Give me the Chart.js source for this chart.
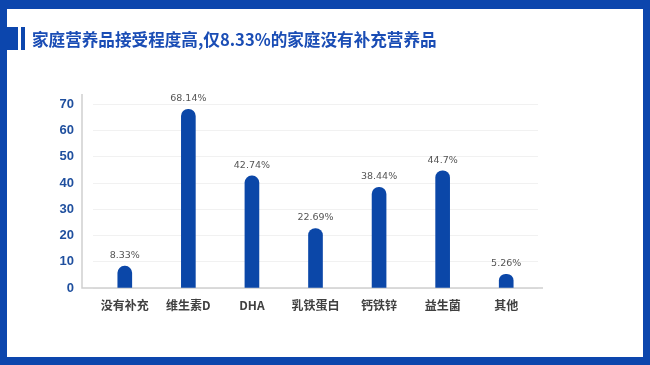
<!DOCTYPE html>
<html><head><meta charset="utf-8">
<script src="https://cdn.jsdelivr.net/npm/chart.js@4.4.1/dist/chart.umd.min.js"></script>
<style>
html,body{margin:0;padding:0;background:#fff;}
#wrap{position:relative;width:650px;height:365px;overflow:hidden;background:#fff;}
#frame{position:absolute;left:0;top:0;width:650px;height:365px;box-sizing:border-box;border-style:solid;border-color:#0c46ad;border-width:9px 7px 8px 7px;pointer-events:none;}
#mark1{position:absolute;left:7px;top:27px;width:11px;height:23px;background:#0c46ad;}
#mark2{position:absolute;left:21px;top:27px;width:4px;height:23px;background:#0c46ad;}
#title{position:absolute;left:32px;top:26px;font-family:"Noto Sans CJK SC",sans-serif;font-weight:700;font-size:16.6px;color:#1a4db5;white-space:nowrap;line-height:26px;}
canvas{position:absolute;left:0;top:0;}
</style></head>
<body><div id="wrap">
<canvas id="c" width="650" height="365"></canvas>
<div id="frame"></div><div id="mark1"></div><div id="mark2"></div>
<div id="title">家庭营养品接受程度高,仅8.33%的家庭没有补充营养品</div>
</div>
<script>
const categories = ["没有补充","维生素D","DHA","乳铁蛋白","钙铁锌","益生菌","其他"];
const values = [8.33, 68.14, 42.74, 22.69, 38.44, 44.7, 5.26];
const valueLabels = ["8.33%","68.14%","42.74%","22.69%","38.44%","44.7%","5.26%"];
const yTicks = [0,10,20,30,40,50,60,70];

const axisLines = {
  id:'axisLines',
  beforeDatasetsDraw(chart){
    const {ctx, chartArea:a} = chart;
    ctx.save();
    ctx.strokeStyle = '#cfcfcf';
    ctx.lineWidth = 1.5;
    ctx.beginPath();
    ctx.moveTo(a.left-11, a.top);
    ctx.lineTo(a.left-11, a.bottom);
    ctx.lineTo(a.right+5, a.bottom);
    ctx.stroke();
    ctx.restore();
  }
};
const valueLabelPlugin = {
  id:'valueLabels',
  afterDatasetsDraw(chart){
    const {ctx} = chart;
    const meta = chart.getDatasetMeta(0);
    ctx.save();
    ctx.font = '9.5px "DejaVu Sans", sans-serif';
    ctx.fillStyle = '#555';
    ctx.textAlign = 'center';
    ctx.textBaseline = 'bottom';
    meta.data.forEach((bar,i)=>{
      ctx.fillText(valueLabels[i], bar.x, bar.y - 6);
    });
    ctx.restore();
  }
};

new Chart(document.getElementById('c'), {
  type:'bar',
  data:{labels:categories, datasets:[{data:values, backgroundColor:'#0b47a8', barThickness:14,
    borderRadius:{topLeft:7, topRight:7, bottomLeft:0, bottomRight:0}, borderSkipped:'bottom'}]},
  options:{
    responsive:false, animation:false, devicePixelRatio:1,
    layout:{padding:{top:94, right:112, bottom:0, left:0}},
    plugins:{legend:{display:false}, tooltip:{enabled:false}, title:{display:false}},
    scales:{
      x:{
        grid:{display:false, drawTicks:false}, border:{display:false},
        ticks:{padding:10, color:'#404040', font:{family:'"Noto Sans CJK SC", sans-serif', size:12, weight:'bold'}},
        afterFit(s){ s.height = 77; }
      },
      y:{
        min:0, max:74,
        afterBuildTicks(s){ s.ticks = yTicks.map(v=>({value:v})); },
        grid:{color:'#f1f1f1', drawTicks:false}, border:{display:false},
        ticks:{padding:19, color:'#1f4f9e', font:{family:'"Liberation Sans", Arial, sans-serif', size:13, weight:'bold'}},
        afterFit(s){ s.width = 93; }
      }
    }
  },
  plugins:[axisLines, valueLabelPlugin]
});
</script>
</body></html>
